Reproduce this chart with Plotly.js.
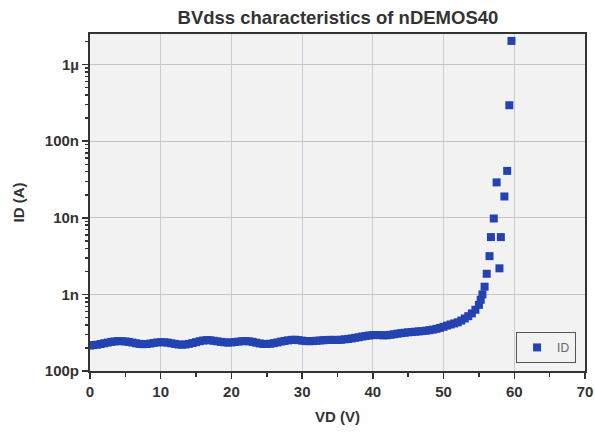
<!DOCTYPE html>
<html>
<head>
<meta charset="utf-8">
<script src="https://cdn.plot.ly/plotly-3.0.1.min.js"></script>
<style>html,body{margin:0;padding:0;background:#fff;}#chart{width:595px;height:433px;}</style>
</head>
<body>
<div id="chart"></div>
<script>
// Drain voltage (V)
const vd = [
  0,0.5,1,1.5,2,2.5,3,3.5,4,4.5,5,5.5,6,6.5,7,7.5,8,8.5,9,9.5,
  10,10.5,11,11.5,12,12.5,13,13.5,14,14.5,15,15.5,16,16.5,17,17.5,18,18.5,19,19.5,
  20,20.5,21,21.5,22,22.5,23,23.5,24,24.5,25,25.5,26,26.5,27,27.5,28,28.5,29,29.5,
  30,30.5,31,31.5,32,32.5,33,33.5,34,34.5,35,35.5,36,36.5,37,37.5,38,38.5,39,39.5,
  40,40.5,41,41.5,42,42.5,43,43.5,44,44.5,45,45.5,46,46.5,47,47.5,48,48.5,49,49.5,
  50,50.5,51,51.5,52,52.5,53,53.5,54,54.5,55,55.25,55.5,
  55.8,56.1,57.9,56.5,56.7,58.1,57.1,58.6,57.5,59.0,59.3,59.6
];
// Drain current (A)
const id = [
  2.15e-10,2.18e-10,2.2e-10,2.25e-10,2.3e-10,2.35e-10,2.4e-10,2.43e-10,2.46e-10,2.45e-10,
  2.43e-10,2.4e-10,2.35e-10,2.3e-10,2.26e-10,2.24e-10,2.25e-10,2.28e-10,2.32e-10,2.36e-10,
  2.38e-10,2.37e-10,2.35e-10,2.3e-10,2.26e-10,2.22e-10,2.2e-10,2.22e-10,2.26e-10,2.32e-10,
  2.38e-10,2.45e-10,2.5e-10,2.53e-10,2.52e-10,2.48e-10,2.44e-10,2.4e-10,2.37e-10,2.35e-10,
  2.36e-10,2.39e-10,2.42e-10,2.45e-10,2.46e-10,2.44e-10,2.4e-10,2.34e-10,2.29e-10,2.26e-10,
  2.25e-10,2.27e-10,2.31e-10,2.36e-10,2.42e-10,2.47e-10,2.51e-10,2.55e-10,2.56e-10,2.53e-10,
  2.49e-10,2.46e-10,2.45e-10,2.46e-10,2.48e-10,2.5e-10,2.52e-10,2.54e-10,2.55e-10,2.55e-10,
  2.54e-10,2.56e-10,2.59e-10,2.62e-10,2.66e-10,2.71e-10,2.76e-10,2.82e-10,2.87e-10,2.91e-10,
  2.94e-10,2.95e-10,2.94e-10,2.92e-10,2.93e-10,2.97e-10,3.02e-10,3.07e-10,3.12e-10,3.16e-10,
  3.2e-10,3.23e-10,3.26e-10,3.29e-10,3.32e-10,3.36e-10,3.41e-10,3.47e-10,3.55e-10,3.65e-10,
  3.78e-10,3.92e-10,4.05e-10,4.18e-10,4.32e-10,4.55e-10,4.85e-10,5.2e-10,5.65e-10,6.3e-10,
  7.3e-10,8.5e-10,1.0e-9,
  1.26e-9,1.86e-9,2.19e-9,3.16e-9,5.6e-9,5.6e-9,9.8e-9,1.9e-8,2.9e-8,4.1e-8,2.95e-7,2.04e-6
];
const yTickVals = [1e-10,1e-9,1e-8,1e-7,1e-6];
const yTickText = ['100p','1n','10n','100n','1µ'];
const xTickVals = [0,10,20,30,40,50,60,70];

const yMinor = [];
for (let e = -10; e <= -6; e++) {
  for (let m = 2; m <= 9; m++) yMinor.push(m * Math.pow(10, e));
}

const FAM = 'Liberation Sans, Arial, sans-serif';
const tickFont = {family:FAM, size:15, color:'#333', weight:'bold'};

const trace = {
  x: vd, y: id, name: 'ID', type: 'scatter', mode: 'markers',
  marker: {symbol:'square', size:8, color:'#2443b0', line:{width:0}}
};

const layout = {
  width: 595, height: 433,
  margin: {l:90, r:10, t:34, b:62},
  paper_bgcolor: '#ffffff',
  plot_bgcolor: '#f2f2f2',
  title: {text:'BVdss characteristics of nDEMOS40', x:0.568, xanchor:'center', y:0.96, yanchor:'middle',
          font:{family:FAM, size:18.5, color:'#333', weight:'bold'}},
  xaxis: {
    range:[0,70], tickmode:'array', tickvals:xTickVals, ticks:'outside', ticklen:6, tickwidth:1.5, tickcolor:'#333',
    showline:true, linecolor:'#333', linewidth:2, mirror:true,
    showgrid:true, gridcolor:'#c6cdd5', gridwidth:1, zeroline:false,
    tickfont: tickFont,
    minor: {dtick:5, ticks:'outside', ticklen:4, tickcolor:'#333', showgrid:false},
    title: {text:'VD (V)', standoff:12, font:{family:FAM, size:15, color:'#333', weight:'bold'}}
  },
  yaxis: {
    type:'log', range:[-10, -5.6], tickmode:'array', tickvals:yTickVals, ticktext:yTickText,
    ticks:'outside', ticklen:6, tickwidth:1.5, tickcolor:'#333',
    showline:true, linecolor:'#333', linewidth:2, mirror:true,
    showgrid:true, gridcolor:'#cdc1be', gridwidth:1, zeroline:false,
    tickfont: tickFont,
    minor: {tickmode:'array', tickvals:yMinor, ticks:'outside', ticklen:3, tickcolor:'#333', showgrid:false},
    title: {text:'ID (A)', standoff:17, font:{family:FAM, size:15, color:'#333', weight:'bold'}}
  },
  showlegend: true,
  legend: {x:0.982, y:0.024, xanchor:'right', yanchor:'bottom', bgcolor:'#f2f2f2', bordercolor:'#555', borderwidth:1,
           font:{family:FAM, size:12, color:'#666'}}
};

Plotly.newPlot('chart', [trace], layout, {staticPlot:true, displayModeBar:false});
</script>
</body>
</html>
